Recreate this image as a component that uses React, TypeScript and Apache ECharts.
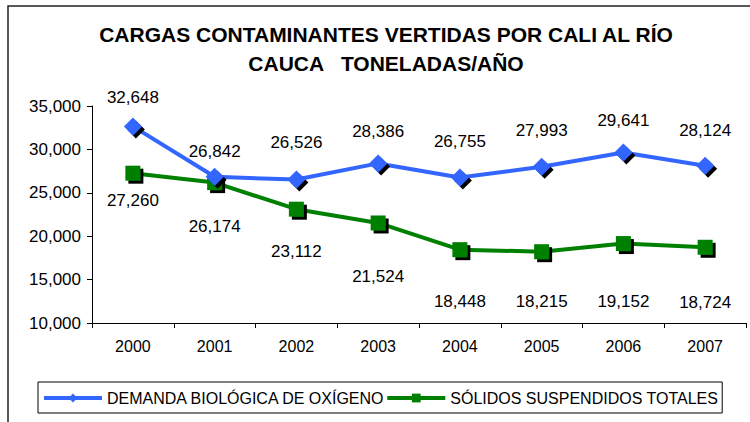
import React, { useEffect, useRef } from "react";
import * as echarts from "echarts";

const years = ["2000", "2001", "2002", "2003", "2004", "2005", "2006", "2007"];
const dboValues = [32648, 26842, 26526, 28386, 26755, 27993, 29641, 28124];
const sstValues = [27260, 26174, 23112, 21524, 18448, 18215, 19152, 18724];
const seriesNames = ["DEMANDA BIOLÓGICA DE OXÍGENO", "SÓLIDOS SUSPENDIDOS TOTALES"];
const titleText = "CARGAS CONTAMINANTES VERTIDAS POR CALI AL RÍO\nCAUCA   TONELADAS/AÑO";

// label placement offsets (style only)
const dboLabelDy = [-29, -25, -37, -32, -36, -36, -32, -35];
const sstLabelDy = [27, 44, 42, 54, 52, 50, 58, 55];

const FONT = "'Liberation Sans', Arial, Helvetica, sans-serif";
const fmt = (v: number) => v.toLocaleString("en-US");

export default function App() {
  const ref = useRef<HTMLDivElement>(null);
  useEffect(() => {
    document.body.style.margin = "0";
    const chart = echarts.init(ref.current!, null, { renderer: "svg" });
    const labelStyle = {
      show: true,
      position: "inside" as const,
      color: "#000",
      fontSize: 17,
      fontFamily: FONT,
      formatter: (p: any) => fmt(p.value),
    };
    chart.setOption({
      animation: false,
      backgroundColor: "#fff",
      textStyle: { fontFamily: FONT },
      title: {
        text: titleText,
        left: 386,
        top: 20,
        padding: 0,
        textAlign: "center",
        textStyle: {
          fontSize: 21,
          fontWeight: "bold",
          color: "#000",
          lineHeight: 29,
          fontFamily: FONT,
        },
      },
      graphic: [
        {
          type: "rect",
          shape: { x: 8, y: 6, width: 1000, height: 1000 },
          style: { fill: "none", stroke: "#222", lineWidth: 1.5 },
          silent: true,
          z: -10,
        },
      ],
      legend: {
        left: 38,
        top: 382,
        orient: "horizontal",
        borderColor: "#000",
        borderWidth: 1,
        padding: [8, 4, 7, 4],
        itemGap: 0,
        itemWidth: 58,
        itemHeight: 11,
        lineStyle: { width: 4 },
        textStyle: { fontSize: 16, color: "#000", fontFamily: FONT },
        data: seriesNames,
      },
      grid: { left: 92, right: 4, top: 106, bottom: 99 },
      xAxis: {
        type: "category",
        data: years,
        boundaryGap: true,
        axisLine: { show: true, lineStyle: { color: "#000", width: 1 } },
        axisTick: { show: true, inside: false, length: 5, alignWithLabel: false, lineStyle: { color: "#000" } },
        axisLabel: { color: "#000", fontSize: 16, margin: 15, fontFamily: FONT },
        splitLine: { show: false },
      },
      yAxis: {
        type: "value",
        min: 10000,
        max: 35000,
        interval: 5000,
        axisLine: { show: true, lineStyle: { color: "#000", width: 1 } },
        axisTick: { show: true, inside: false, length: 5, lineStyle: { color: "#000" } },
        axisLabel: { color: "#000", fontSize: 17, margin: 11, fontFamily: FONT, formatter: (v: number) => fmt(v) },
        splitLine: { show: false },
      },
      series: [
        {
          name: seriesNames[0],
          type: "line",
          symbol: "diamond",
          symbolSize: 18,
          lineStyle: { color: "#3366FF", width: 4 },
          itemStyle: {
            color: "#3366FF",
            shadowColor: "#000",
            shadowOffsetX: 3,
            shadowOffsetY: 3,
            shadowBlur: 0,
          },
          label: labelStyle,
          data: dboValues.map((v, i) => ({ value: v, label: { offset: [0, dboLabelDy[i]] } })),
          z: 3,
        },
        {
          name: seriesNames[1],
          type: "line",
          symbol: "rect",
          symbolSize: 15,
          lineStyle: { color: "#008000", width: 4 },
          itemStyle: {
            color: "#008000",
            shadowColor: "#000",
            shadowOffsetX: 3,
            shadowOffsetY: 3,
            shadowBlur: 0,
          },
          label: labelStyle,
          data: sstValues.map((v, i) => ({ value: v, label: { offset: [0, sstLabelDy[i]] } })),
          z: 2,
        },
      ],
    });
    return () => chart.dispose();
  }, []);
  return <div ref={ref} style={{ width: 750, height: 422 }} />;
}
